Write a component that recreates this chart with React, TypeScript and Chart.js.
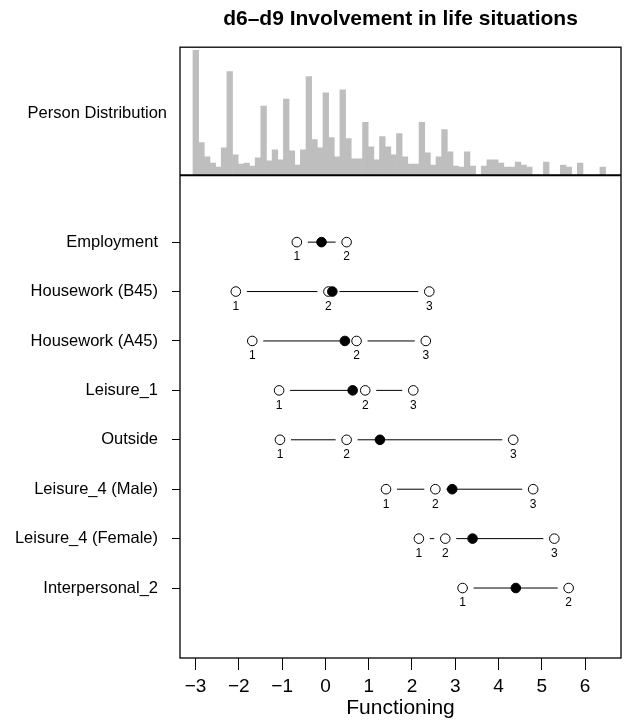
import React, { useEffect, useRef } from "react";
import { Chart, registerables } from "chart.js";

Chart.register(...registerables);

const chartTitle = "d6–d9 Involvement in life situations";
const xAxisTitle = "Functioning";
const histogramLabel = "Person Distribution";

const items = [
  "Employment",
  "Housework (B45)",
  "Housework (A45)",
  "Leisure_1",
  "Outside",
  "Leisure_4 (Male)",
  "Leisure_4 (Female)",
  "Interpersonal_2",
];
const itemLocations = [-0.09, 0.16, 0.45, 0.63, 1.26, 2.93, 3.4, 4.4];
const threshold1 = [-0.66, -2.07, -1.69, -1.07, -1.05, 1.4, 2.16, 3.17];
const threshold2 = [0.49, 0.07, 0.72, 0.92, 0.49, 2.54, 2.77, 5.62];
const threshold3: (number | null)[] = [null, 2.4, 2.32, 2.03, 4.34, 4.8, 5.29, null];

const xTicks = [-3, -2, -1, 0, 1, 2, 3, 4, 5, 6];
const xMin = -3.36;
const xMax = 6.83;

const binStart = -3.06;
const binWidth = 0.1306;
const personCounts = [
  123, 32, 18, 12, 8, 27, 102, 20, 11, 12, 9, 17, 68, 14, 25, 15, 75, 24, 10, 25,
  97, 35, 27, 81, 37, 18, 84, 36, 16, 16, 52, 28, 15, 38, 28, 20, 41, 18, 11, 11,
  52, 22, 10, 18, 45, 23, 9, 8, 23, 9, 0, 9, 15, 15, 12, 8, 8, 13, 10, 8,
  0, 0, 13, 0, 0, 10, 8, 0, 12, 0, 0, 0, 8,
];

const FONT = "'Liberation Sans', Arial, Helvetica, sans-serif";
const HIST_FRACTION = 128 / 611;
const HIST_MAX = 126;

function thresholdsOf(i: number): number[] {
  return [threshold1[i], threshold2[i], threshold3[i]].filter(
    (v): v is number => v !== null && v !== undefined
  );
}

const decorPlugin = {
  id: "decor",
  afterDatasetsDraw(chart: any) {
    const { ctx, chartArea, scales } = chart;
    const x = scales.x;
    const y = scales.y;
    const yh = scales.yh;
    ctx.save();
    ctx.fillStyle = "#000";
    ctx.font = `12px ${FONT}`;
    ctx.textAlign = "center";
    ctx.textBaseline = "middle";
    items.forEach((_, i) => {
      thresholdsOf(i).forEach((t, k) => {
        ctx.fillText(String(k + 1), x.getPixelForValue(t), y.getPixelForValue(i + 1) + 15);
      });
    });
    ctx.strokeStyle = "#000";
    ctx.lineWidth = 1.3;
    ctx.strokeRect(
      chartArea.left,
      chartArea.top,
      chartArea.right - chartArea.left,
      chartArea.bottom - chartArea.top
    );
    const sep = yh.getPixelForValue(0);
    ctx.lineWidth = 2;
    ctx.beginPath();
    ctx.moveTo(chartArea.left, sep);
    ctx.lineTo(chartArea.right, sep);
    ctx.stroke();
    ctx.font = `16.5px ${FONT}`;
    ctx.textAlign = "right";
    ctx.textBaseline = "middle";
    ctx.fillText(histogramLabel, chartArea.left - 13, (chartArea.top + sep) / 2 + 2);
    ctx.restore();
  },
};

export default function App() {
  const canvasRef = useRef<HTMLCanvasElement | null>(null);

  useEffect(() => {
    const canvas = canvasRef.current;
    if (!canvas) return;

    const rowLines = items.map((_, i) => ({
      type: "line" as const,
      data: thresholdsOf(i).map((t) => ({ x: t, y: i + 1 })),
      xAxisID: "x",
      yAxisID: "y",
      borderColor: "#000",
      borderWidth: 1,
      pointRadius: 0,
      showLine: true,
      fill: false,
      order: 3,
    }));

    const thresholdPoints = items.flatMap((_, i) =>
      thresholdsOf(i).map((t) => ({ x: t, y: i + 1 }))
    );

    const histData = personCounts.map((c, i) => ({
      x: binStart + binWidth * (i + 0.5),
      y: c,
    }));

    const chart = new Chart(canvas, {
      type: "scatter",
      data: {
        datasets: [
          {
            type: "scatter",
            data: itemLocations.map((v, i) => ({ x: v, y: i + 1 })),
            xAxisID: "x",
            yAxisID: "y",
            pointRadius: 4.8,
            pointBackgroundColor: "#000",
            pointBorderColor: "#000",
            pointBorderWidth: 1,
            order: 0,
          },
          {
            type: "scatter",
            data: thresholdPoints,
            xAxisID: "x",
            yAxisID: "y",
            pointRadius: 4.8,
            pointBackgroundColor: "#fff",
            pointBorderColor: "#000",
            pointBorderWidth: 1,
            order: 1,
          },
          {
            type: "scatter",
            data: thresholdPoints,
            xAxisID: "x",
            yAxisID: "y",
            pointRadius: 11,
            pointBackgroundColor: "#fff",
            pointBorderColor: "#fff",
            pointBorderWidth: 0,
            order: 2,
          },
          ...rowLines,
          {
            type: "bar",
            data: histData,
            xAxisID: "x",
            yAxisID: "yh",
            backgroundColor: "#bebebe",
            borderWidth: 0,
            barPercentage: 1,
            categoryPercentage: 1,
            order: 4,
          },
        ] as any,
      },
      options: {
        animation: false,
        responsive: false,
        events: [],
        layout: { padding: { left: 0, right: 3, top: 0, bottom: 0 } },
        plugins: {
          legend: { display: false },
          tooltip: { enabled: false },
          title: {
            display: true,
            text: chartTitle,
            fullSize: false,
            color: "#000",
            font: { family: FONT, size: 21, weight: "bold" },
            padding: { top: 7, bottom: 15 },
          },
        },
        scales: {
          x: {
            type: "linear",
            position: "bottom",
            min: xMin,
            max: xMax,
            offset: false,
            afterBuildTicks: (scale: any) => {
              scale.ticks = xTicks.map((v) => ({ value: v }));
            },
            afterFit: (scale: any) => {
              scale.height = 64;
              scale.paddingLeft = 0;
              scale.paddingRight = 0;
            },
            ticks: {
              color: "#000",
              font: { family: FONT, size: 19 },
              padding: 5,
              maxRotation: 0,
              autoSkip: false,
              callback: (v: any) => String(v).replace("-", "\u2212"),
            },
            grid: {
              display: true,
              offset: false,
              drawOnChartArea: false,
              drawTicks: true,
              tickLength: 12,
              tickColor: "#000",
              lineWidth: 1,
            },
            border: { display: false },
            title: {
              display: true,
              text: xAxisTitle,
              color: "#000",
              font: { family: FONT, size: 21 },
              padding: { top: 0, bottom: 1 },
            },
          },
          y: {
            type: "linear",
            position: "left",
            reverse: true,
            min: -2.945,
            max: 9.416,
            afterBuildTicks: (scale: any) => {
              scale.ticks = items.map((_, i) => ({ value: i + 1 }));
            },
            afterFit: (scale: any) => {
              scale.width = 180;
            },
            ticks: {
              color: "#000",
              font: { family: FONT, size: 16.5 },
              padding: 14,
              autoSkip: false,
              callback: (v: any) => items[Number(v) - 1] ?? "",
            },
            grid: {
              display: true,
              drawOnChartArea: false,
              drawTicks: true,
              tickLength: 8,
              tickColor: "#000",
              lineWidth: 1,
            },
            border: { display: false },
          },
          yh: {
            type: "linear",
            display: false,
            min: -HIST_MAX * (1 - HIST_FRACTION) / HIST_FRACTION,
            max: HIST_MAX,
          },
        },
      },
      plugins: [decorPlugin],
    } as any);

    return () => chart.destroy();
  }, []);

  return (
    <div
      style={{
        position: "absolute",
        left: 0,
        top: 0,
        width: 624,
        height: 722,
        overflow: "hidden",
        background: "#fff",
      }}
    >
      <canvas ref={canvasRef} width={632} height={722} style={{ display: "block" }} />
    </div>
  );
}
